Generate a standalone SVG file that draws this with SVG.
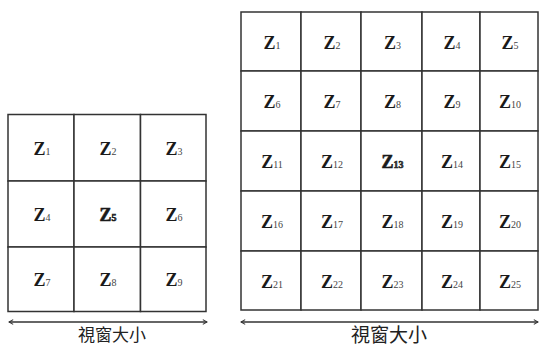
<svg xmlns="http://www.w3.org/2000/svg" width="539" height="347" viewBox="0 0 539 347">
<defs>
<style>
.c{fill:#fff;stroke:#333;stroke-width:1.5}
.t{font-family:"Liberation Serif","Times New Roman",serif;fill:#1a1a1a;text-anchor:middle}
.z{font-size:18px;font-weight:bold}
.zb{stroke:#1a1a1a;stroke-width:0.6}
.s{font-size:10px;font-weight:normal;fill:#444}
.a{stroke:#333;stroke-width:1.5;fill:none}
.cap{font-family:"Noto Sans CJK TC","Noto Sans CJK SC",sans-serif;fill:#222;text-anchor:middle}
</style>
<marker id="ah" viewBox="0 0 10 10" refX="9" refY="5" markerWidth="6" markerHeight="6" markerUnits="userSpaceOnUse" orient="auto-start-reverse">
<path d="M2,1 L9,5 L2,9" fill="none" stroke="#333" stroke-width="1.8"/>
</marker>
</defs>
<rect width="539" height="347" fill="#fff"/>

<g id="gridA">
<g id="a1"><rect class="c" x="8" y="114.5" width="66" height="66.5"/><text class="t" x="42" y="154.5"><tspan class="z">Z</tspan><tspan class="s">1</tspan></text></g>
<g id="a2"><rect class="c" x="74" y="114.5" width="66.5" height="66.5"/><text class="t" x="108" y="154.5"><tspan class="z">Z</tspan><tspan class="s">2</tspan></text></g>
<g id="a3"><rect class="c" x="140.5" y="114.5" width="65.5" height="66.5"/><text class="t" x="174" y="154.5"><tspan class="z">Z</tspan><tspan class="s">3</tspan></text></g>
<g id="a4"><rect class="c" x="8" y="181" width="66" height="66"/><text class="t" x="42" y="221"><tspan class="z">Z</tspan><tspan class="s">4</tspan></text></g>
<g id="a5"><rect class="c" x="74" y="181" width="66.5" height="66"/><text class="t" x="108" y="221"><tspan class="z zb">Z</tspan><tspan class="s zb" style="font-weight:bold">5</tspan></text></g>
<g id="a6"><rect class="c" x="140.5" y="181" width="65.5" height="66"/><text class="t" x="174" y="221"><tspan class="z">Z</tspan><tspan class="s">6</tspan></text></g>
<g id="a7"><rect class="c" x="8" y="247" width="66" height="64.5"/><text class="t" x="42" y="286"><tspan class="z">Z</tspan><tspan class="s">7</tspan></text></g>
<g id="a8"><rect class="c" x="74" y="247" width="66.5" height="64.5"/><text class="t" x="108" y="286"><tspan class="z">Z</tspan><tspan class="s">8</tspan></text></g>
<g id="a9"><rect class="c" x="140.5" y="247" width="65.5" height="64.5"/><text class="t" x="174" y="286"><tspan class="z">Z</tspan><tspan class="s">9</tspan></text></g>
</g>

<g id="gridB">
<g id="b1"><rect class="c" x="241" y="12" width="60" height="59"/><text class="t" x="272" y="48.5"><tspan class="z">Z</tspan><tspan class="s">1</tspan></text></g>
<g id="b2"><rect class="c" x="301" y="12" width="60" height="59"/><text class="t" x="332" y="48.5"><tspan class="z">Z</tspan><tspan class="s">2</tspan></text></g>
<g id="b3"><rect class="c" x="361" y="12" width="61" height="59"/><text class="t" x="392.5" y="48.5"><tspan class="z">Z</tspan><tspan class="s">3</tspan></text></g>
<g id="b4"><rect class="c" x="422" y="12" width="58" height="59"/><text class="t" x="452" y="48.5"><tspan class="z">Z</tspan><tspan class="s">4</tspan></text></g>
<g id="b5"><rect class="c" x="480" y="12" width="58" height="59"/><text class="t" x="510" y="48.5"><tspan class="z">Z</tspan><tspan class="s">5</tspan></text></g>

<g id="b6"><rect class="c" x="241" y="71" width="60" height="60"/><text class="t" x="272" y="108"><tspan class="z">Z</tspan><tspan class="s">6</tspan></text></g>
<g id="b7"><rect class="c" x="301" y="71" width="60" height="60"/><text class="t" x="332" y="108"><tspan class="z">Z</tspan><tspan class="s">7</tspan></text></g>
<g id="b8"><rect class="c" x="361" y="71" width="61" height="60"/><text class="t" x="392.5" y="108"><tspan class="z">Z</tspan><tspan class="s">8</tspan></text></g>
<g id="b9"><rect class="c" x="422" y="71" width="58" height="60"/><text class="t" x="452" y="108"><tspan class="z">Z</tspan><tspan class="s">9</tspan></text></g>
<g id="b10"><rect class="c" x="480" y="71" width="58" height="60"/><text class="t" x="510" y="108"><tspan class="z">Z</tspan><tspan class="s">10</tspan></text></g>

<g id="b11"><rect class="c" x="241" y="131" width="60" height="60"/><text class="t" x="272" y="168"><tspan class="z">Z</tspan><tspan class="s">11</tspan></text></g>
<g id="b12"><rect class="c" x="301" y="131" width="60" height="60"/><text class="t" x="332" y="168"><tspan class="z">Z</tspan><tspan class="s">12</tspan></text></g>
<g id="b13"><rect class="c" x="361" y="131" width="61" height="60"/><text class="t" x="392.5" y="168"><tspan class="z zb">Z</tspan><tspan class="s zb" style="font-weight:bold">13</tspan></text></g>
<g id="b14"><rect class="c" x="422" y="131" width="58" height="60"/><text class="t" x="452" y="168"><tspan class="z">Z</tspan><tspan class="s">14</tspan></text></g>
<g id="b15"><rect class="c" x="480" y="131" width="58" height="60"/><text class="t" x="510" y="168"><tspan class="z">Z</tspan><tspan class="s">15</tspan></text></g>

<g id="b16"><rect class="c" x="241" y="191" width="60" height="60"/><text class="t" x="272" y="228"><tspan class="z">Z</tspan><tspan class="s">16</tspan></text></g>
<g id="b17"><rect class="c" x="301" y="191" width="60" height="60"/><text class="t" x="332" y="228"><tspan class="z">Z</tspan><tspan class="s">17</tspan></text></g>
<g id="b18"><rect class="c" x="361" y="191" width="61" height="60"/><text class="t" x="392.5" y="228"><tspan class="z">Z</tspan><tspan class="s">18</tspan></text></g>
<g id="b19"><rect class="c" x="422" y="191" width="58" height="60"/><text class="t" x="452" y="228"><tspan class="z">Z</tspan><tspan class="s">19</tspan></text></g>
<g id="b20"><rect class="c" x="480" y="191" width="58" height="60"/><text class="t" x="510" y="228"><tspan class="z">Z</tspan><tspan class="s">20</tspan></text></g>

<g id="b21"><rect class="c" x="241" y="251" width="60" height="59"/><text class="t" x="272" y="287.5"><tspan class="z">Z</tspan><tspan class="s">21</tspan></text></g>
<g id="b22"><rect class="c" x="301" y="251" width="60" height="59"/><text class="t" x="332" y="287.5"><tspan class="z">Z</tspan><tspan class="s">22</tspan></text></g>
<g id="b23"><rect class="c" x="361" y="251" width="61" height="59"/><text class="t" x="392.5" y="287.5"><tspan class="z">Z</tspan><tspan class="s">23</tspan></text></g>
<g id="b24"><rect class="c" x="422" y="251" width="58" height="59"/><text class="t" x="452" y="287.5"><tspan class="z">Z</tspan><tspan class="s">24</tspan></text></g>
<g id="b25"><rect class="c" x="480" y="251" width="58" height="59"/><text class="t" x="510" y="287.5"><tspan class="z">Z</tspan><tspan class="s">25</tspan></text></g>
</g>

<g id="connectors">
<line class="a" x1="9" y1="322" x2="207" y2="322" marker-start="url(#ah)" marker-end="url(#ah)"/>
<line class="a" x1="241" y1="322" x2="538" y2="322" marker-start="url(#ah)" marker-end="url(#ah)"/>
</g>

<g id="captions">
<text class="cap" x="112" y="341" font-size="17">視窗大小</text>
<text class="cap" x="389" y="342" font-size="19">視窗大小</text>
</g>
</svg>
